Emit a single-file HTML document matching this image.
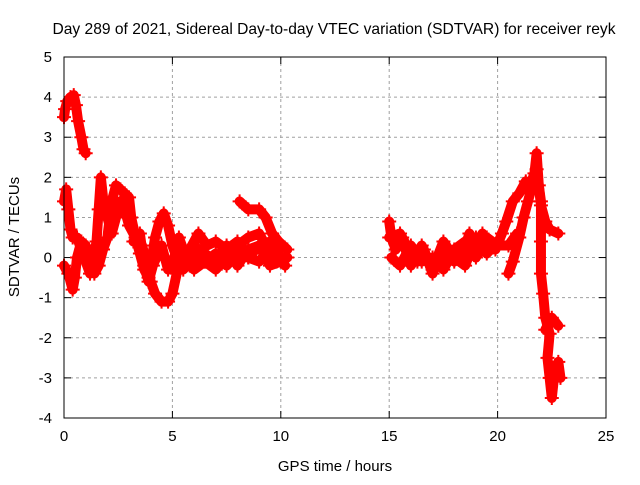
<!DOCTYPE html>
<html><head><meta charset="utf-8"><style>
body{margin:0;background:#fff;}
svg text{font-family:"Liberation Sans",sans-serif;font-size:15px;fill:#000;}
</style></head><body>
<svg id="chart" width="640" height="480" xmlns="http://www.w3.org/2000/svg">
<rect width="640" height="480" fill="#fff"/>
<text x="334" y="34" text-anchor="middle" style="font-size:15.6px">Day 289 of 2021, Sidereal Day-to-day VTEC variation (SDTVAR) for receiver reyk</text>
<text x="335" y="471" text-anchor="middle">GPS time / hours</text>
<text transform="translate(19,237) rotate(-90)" text-anchor="middle">SDTVAR / TECUs</text>
<g id="grid"></g><g id="ticks"></g><g id="marks"></g>
<rect x="64" y="57" width="542" height="361" fill="none" stroke="#000" stroke-width="1"/>
</svg>
<script>
const xTicks=[0,5,10,15,20,25];
const yTicks=[-4,-3,-2,-1,0,1,2,3,4,5];
const trackA=[[0,3.5],[0.05,3.7],[0.15,3.9],[0.3,4.0],[0.45,4.05],[0.55,3.8],[0.65,3.4],[0.8,3.0],[0.9,2.7],[1.0,2.6]];
const trackB=[[0,1.4],[0.1,1.7],[0.2,1.2],[0.3,0.7],[0.4,0.5],[0.6,0.5],[0.8,0.2],[1.0,-0.1],[1.2,-0.4],[1.3,-0.2],[1.5,0.4],[1.6,1.2],[1.7,2.0],[1.8,1.5],[2.0,1.0],[2.2,0.6],[2.4,1.0],[2.6,1.4],[2.8,1.2],[3.0,0.8],[3.3,0.5],[3.6,0.3],[3.8,-0.1],[4.0,-0.6],[4.2,-0.9],[4.5,-1.1],[4.8,-1.1],[5.0,-0.9],[5.2,-0.4],[5.4,-0.1]];
const trackC=[[0,-0.2],[0.2,-0.4],[0.4,-0.8],[0.5,-0.5],[0.6,0.0],[0.8,0.4],[1.0,0.3],[1.2,0.0],[1.4,-0.4],[1.6,-0.2],[1.8,0.2],[2.0,0.5],[2.2,1.4],[2.4,1.8],[2.6,1.7],[2.8,1.6],[3.0,1.5],[3.1,1.0],[3.3,0.5],[3.5,0.1],[3.7,-0.3],[3.9,-0.5],[4.0,-0.2],[4.2,0.5],[4.4,0.9],[4.6,1.1],[4.8,0.8],[5.0,0.3],[5.2,0.0],[5.5,0.0],[6.0,0.3],[6.2,0.2],[6.5,-0.1],[7.0,0.1],[7.5,-0.2],[8.0,0.1],[8.5,0.0],[9.0,0.3],[9.5,0.4],[10.0,0.0],[10.2,-0.2]];
const trackD=[[3.2,0.4],[3.5,0.6],[3.7,-0.2],[3.9,-0.6],[4.1,-0.2],[4.5,0.3],[4.8,-0.3],[5.0,-0.2],[5.3,0.5],[5.5,0.2],[5.8,-0.2],[6.0,-0.3],[6.5,-0.1],[7.0,-0.3],[7.5,0.0],[8.0,0.3],[8.5,0.5],[9.0,0.6],[9.3,0.3],[9.5,0.0],[9.8,-0.1],[10.2,0.0]];
const trackE=[[8.1,1.4],[8.5,1.2],[9.0,1.2],[9.3,1.0],[9.6,0.6],[9.9,0.4],[10.3,0.2]];
const trackF=[[5.8,0.2],[6.2,0.6],[6.6,0.3],[7.0,0.4],[7.5,0.2],[8.0,0.4],[8.5,0.0],[9.0,-0.1],[9.5,0.2]];
const trackK=[[5.5,-0.3],[6,0.0],[6.5,0.1],[7,-0.1],[7.5,0.3],[8,-0.2],[8.5,0.2],[9,0.3],[9.5,-0.2],[10,-0.1],[10.3,0.0]];
const trackG=[[15,0.9],[15.1,0.5],[15.3,0.2],[15.6,0.5],[16.0,0.1],[16.3,-0.1],[16.6,0.2],[17,-0.4],[17.3,0],[17.6,0.2],[18,-0.1],[18.4,0.1],[18.7,0.6],[19.0,0.3],[19.3,0.6],[19.6,0.3],[19.9,0.2],[20.2,0.6],[20.4,0.9],[20.7,1.4],[21.0,1.6],[21.3,1.9],[21.5,1.8],[21.7,2.1],[21.8,2.6],[21.9,1.8],[22.0,1.3],[22.2,0.9],[22.4,0.7],[22.8,0.6]];
const trackH=[[15.1,0.0],[15.5,-0.2],[16,0.3],[16.5,-0.1],[17,0.0],[17.5,-0.3],[18,0.2],[18.5,0.4],[19,0.0],[19.5,0.5],[20,0.3],[20.5,0.3],[20.9,0.6]];
const trackL=[[15,0.5],[15.5,0.6],[16,-0.2],[16.5,0.3],[17,-0.3],[17.5,0.4],[18,0.0],[18.5,-0.2],[19,0.5],[19.5,0.1],[20,0.4]];
const trackI=[[20.5,-0.4],[20.7,-0.1],[21.0,0.5],[21.2,1.0],[21.4,1.4],[21.6,1.8],[21.8,2.2],[22.0,1.4],[22.0,0.4],[22.0,-0.4],[22.1,-0.9],[22.2,-1.5],[22.4,-1.9],[22.3,-2.5],[22.4,-3.0],[22.5,-3.5],[22.6,-3.0],[22.8,-2.6],[22.9,-3.0]];
const trackJ=[[22.2,-1.8],[22.5,-1.5],[22.8,-1.7]];
const tracks=[trackA,trackB,trackC,trackD,trackE,trackF,trackK,trackG,trackH,trackL,trackI,trackJ];
const NS='http://www.w3.org/2000/svg';
const X=h=>64+h*(542/25);
const Y=v=>418-(v+4)*(361/9);
function mk(t,a){const e=document.createElementNS(NS,t);for(const k in a)e.setAttribute(k,a[k]);return e;}
const grid=document.getElementById('grid'),ticks=document.getElementById('ticks'),marks=document.getElementById('marks');
xTicks.forEach(t=>{
 if(t>0&&t<25){const g=mk('line',{x1:X(t),x2:X(t),y1:57,y2:418,stroke:'#a0a0a0','stroke-dasharray':'3,3'});
 
 grid.appendChild(g);}
 ticks.appendChild(mk('line',{x1:X(t),x2:X(t),y1:418,y2:411,stroke:'#000'}));
 ticks.appendChild(mk('line',{x1:X(t),x2:X(t),y1:57,y2:64,stroke:'#000'}));
 const tx=mk('text',{x:X(t),y:441,'text-anchor':'middle'});tx.textContent=t;
 
 ticks.appendChild(tx);
});
yTicks.forEach(t=>{
 if(t>-4&&t<5){const g=mk('line',{x1:64,x2:606,y1:Y(t),y2:Y(t),stroke:'#a0a0a0','stroke-dasharray':'3,3'});
 
 grid.appendChild(g);}
 ticks.appendChild(mk('line',{x1:64,x2:71,y1:Y(t),y2:Y(t),stroke:'#000'}));
 ticks.appendChild(mk('line',{x1:606,x2:599,y1:Y(t),y2:Y(t),stroke:'#000'}));
 const tx=mk('text',{x:52,y:Y(t)+5,'text-anchor':'end'});tx.textContent=t;
 
 ticks.appendChild(tx);
});
tracks.forEach(tr=>{
 const pl=mk('polyline',{points:tr.map(p=>X(p[0])+','+Y(p[1])).join(' '),fill:'none',stroke:'#f00','stroke-width':10,'stroke-linejoin':'round','stroke-linecap':'round'});
 
 
 marks.appendChild(pl);
 tr.forEach(p=>{
  const x=X(p[0]),y=Y(p[1]);
  const m=mk('path',{d:`M${x-7},${y}H${x+7}M${x},${y-7}V${y+7}`,stroke:'#f00','stroke-width':2});
  
  
  marks.appendChild(m);
 });
});
</script>
</body></html>
